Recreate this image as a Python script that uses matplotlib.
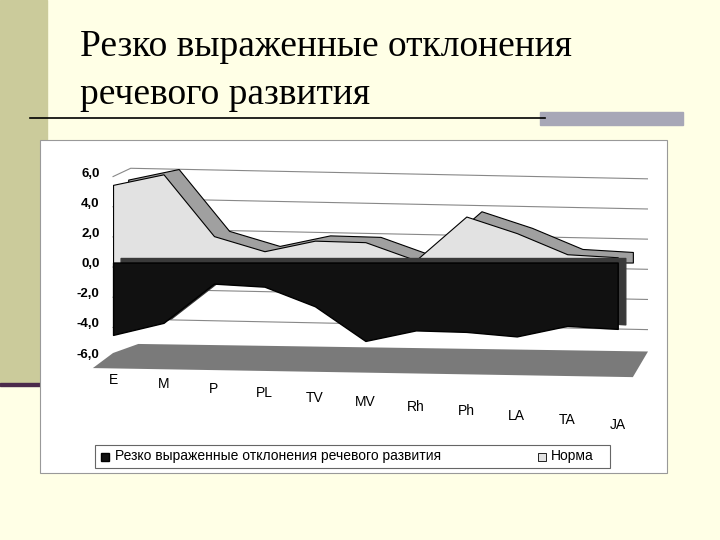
import matplotlib
matplotlib.use("Agg")
import matplotlib.pyplot as plt
from matplotlib.patches import Rectangle, Polygon
import numpy as np

categories = ["E", "M", "P", "PL", "TV", "MV", "Rh", "Ph", "LA", "TA", "JA"]
norma = [5.5, 6.2, 2.1, 1.1, 1.8, 1.7, 0.5, 3.4, 2.3, 0.9, 0.7]
severe = [-4.8, -4.0, -1.4, -1.6, -2.9, -5.2, -4.5, -4.6, -4.9, -4.2, -4.4]
yticks = [6.0, 4.0, 2.0, 0.0, -2.0, -4.0, -6.0]
ytick_labels = ["6,0", "4,0", "2,0", "0,0", "-2,0", "-4,0", "-6,0"]
legend_labels = ["Резко выраженные отклонения речевого развития", "Норма"]

W, H = 720, 540
fig = plt.figure(figsize=(W/100, H/100), dpi=100)
fig.patch.set_facecolor("#FFFFE6")

def fx(px): return px / W
def fy(py): return 1 - py / H

# decorative slide elements
fig.patches.append(Rectangle((0, fy(383)), fx(47), 1 - fy(383), transform=fig.transFigure, color="#CBCB9B", zorder=0))
fig.patches.append(Rectangle((0, fy(386)), fx(40), 3/H, transform=fig.transFigure, color="#4B2A4B", zorder=1))
fig.lines.append(plt.Line2D([fx(30), fx(545)], [fy(118), fy(118)], transform=fig.transFigure, color="black", lw=1.2))
fig.patches.append(Rectangle((fx(540), fy(125)), fx(143), 13/H, transform=fig.transFigure, color="#A7A7B7", zorder=1))
fig.text(fx(80), fy(47), "Резко выраженные отклонения", fontsize=27, family="Liberation Serif", va="center", color="black")
fig.text(fx(80), fy(95), "речевого развития", fontsize=27, family="Liberation Serif", va="center", color="black")

# white chart box
fig.patches.append(Rectangle((fx(40), fy(473)), fx(627), (473-140)/H, transform=fig.transFigure,
                             facecolor="white", edgecolor="#999999", lw=0.8, zorder=1))

ax = fig.add_axes([fx(108), fy(353), fx(540), (353-163)/H])
ax.set_zorder(2)
ax.patch.set_alpha(0)
x = np.arange(len(categories))
ax.set_xlim(-0.1, 10.6)
ax.set_ylim(-6, 6.6)
ax.set_yticks(yticks)
ax.set_yticklabels(ytick_labels, fontsize=9.5, fontweight="bold", family="Liberation Sans")
ax.tick_params(axis="y", length=0, pad=6)
ax.set_xticks([])
for s in ax.spines.values():
    s.set_visible(False)

for t in yticks:
    ax.plot([0.0, 0.35, 10.6], [t - 0.3, t + 0.25, t - 0.45], color="#888888", lw=0.8, zorder=1)

# Norma: back series with top edge band
xb = x + 0.3
nb = np.array(norma)
ax.fill_between(xb, 0, nb, color="#A0A0A0", zorder=2, edgecolor="black", lw=0.8)
ax.fill_between(x, -0.35, nb - 0.35, color="#E2E2E2", edgecolor="black", lw=0.8, zorder=3)

# Severe: front series
sv = np.array(severe)
ax.fill_between(x + 0.15, 0.3, sv + 0.3, color="#3A3A3A", zorder=5)
ax.fill_between(x, 0, sv, color="#111111", edgecolor="black", zorder=6)

# floor
floor = Polygon([(0.0, -6.0), (0.5, -5.4), (10.6, -5.9), (10.3, -7.6), (-0.4, -7.0)], closed=True,
                facecolor="#7A7A7A", edgecolor="none", zorder=1, clip_on=False)
ax.add_patch(floor)

for i, c in enumerate(categories):
    ax.text(x[i], -7.3 - i * 0.3, c, ha="center", va="top", fontsize=10, family="Liberation Sans", clip_on=False)

# legend
fig.patches.append(Rectangle((fx(95), fy(468)), fx(515), 23/H, transform=fig.transFigure,
                             facecolor="white", edgecolor="#666666", lw=0.8, zorder=3))
fig.patches.append(Rectangle((fx(101), fy(461)), 8/W, 8/H, transform=fig.transFigure, facecolor="#111111", edgecolor="black", zorder=4))
fig.text(fx(115), fy(456), legend_labels[0], fontsize=10, family="Liberation Sans", va="center", zorder=4)
fig.patches.append(Rectangle((fx(538), fy(461)), 8/W, 8/H, transform=fig.transFigure, facecolor="#E2E2E2", edgecolor="black", lw=0.6, zorder=4))
fig.text(fx(551), fy(456), legend_labels[1], fontsize=10, family="Liberation Sans", va="center", zorder=4)

fig.savefig("out.png", dpi=100, facecolor=fig.get_facecolor())
